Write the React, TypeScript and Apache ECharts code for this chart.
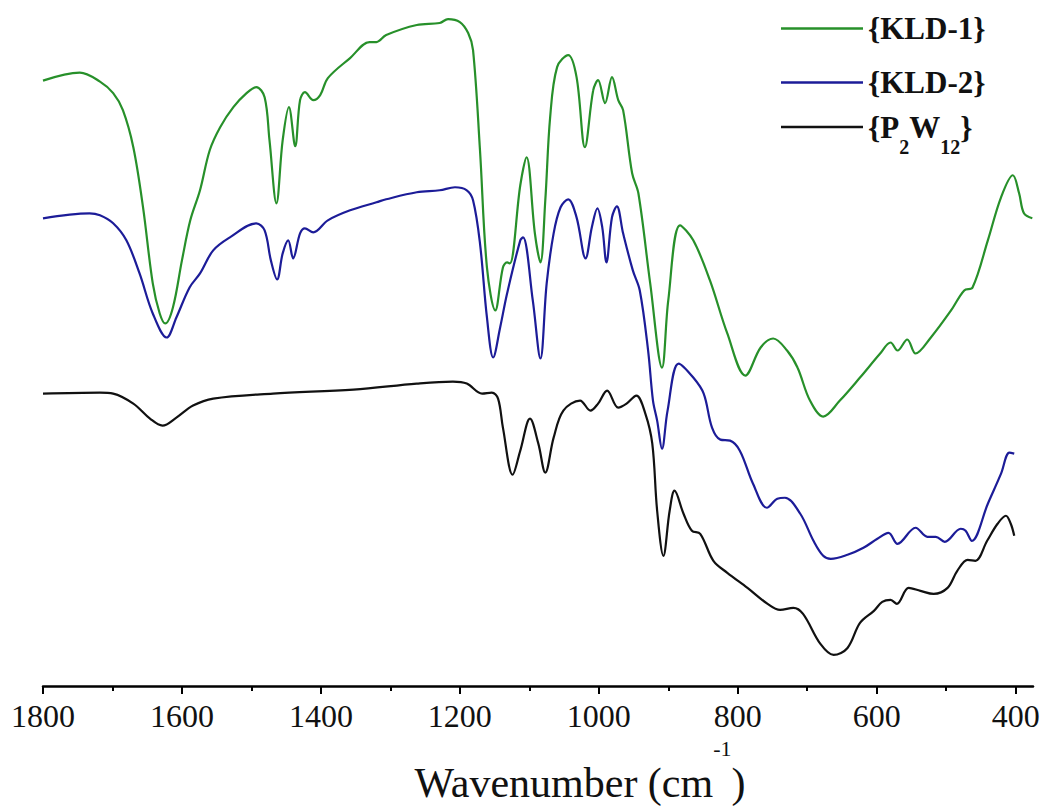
import { useEffect, useRef } from 'react';
import * as echarts from 'echarts';

// [wavenumber (cm-1), transmittance (a.u.)]
const kld1Spectrum: [number, number][] = [
  [1800, 120.9], [1747, 122.5], [1718, 120.7], [1699, 118.4], [1685, 115], [1670, 107.6],
  [1656, 95.6], [1642, 80.4], [1632, 74.4], [1624, 72.4], [1613, 75.6], [1600, 85],
  [1588, 93], [1574, 99], [1560, 107], [1545, 111.6], [1526, 115.6], [1507, 118.4],
  [1493, 119.6], [1481, 117.6], [1474, 109], [1464, 96.4], [1455, 109], [1446, 115.6],
  [1437, 107.8], [1430, 117], [1423, 118.6], [1411, 117], [1401, 118], [1390, 121.4],
  [1358, 125.4], [1330, 128.6], [1320, 128.6], [1306, 130], [1262, 132], [1229, 132.4],
  [1217, 133.2], [1200, 132.6], [1188, 130.4], [1181, 127], [1171, 107], [1161, 83.6],
  [1149, 75], [1138, 83.6], [1132, 84.6], [1128, 84.4], [1113, 100], [1104, 105.6],
  [1092, 90.4], [1084, 84.6], [1077, 97], [1070, 113.6], [1060, 123.6], [1044, 126],
  [1032, 121.6], [1020, 107.6], [1008, 119], [1001, 121], [991, 116.4], [981, 121.6],
  [972, 117], [965, 115], [952, 102.4], [943, 98.4], [926, 80.4], [909, 63.6],
  [900, 77], [883, 92], [864, 89], [840, 81], [815, 70.4], [789, 62],
  [767, 67.6], [749, 69.4], [729, 67], [714, 63.6], [696, 57], [677, 53.8],
  [653, 57], [624, 61.6], [595, 66.4], [580, 68.6], [570, 67], [556, 69.2],
  [544, 66.4], [522, 69.6], [493, 75], [474, 79], [462, 79.6], [440, 89],
  [421, 97.6], [404, 102], [395, 98.4], [388, 94.4], [376, 93.4],
];

const kld2Spectrum: [number, number][] = [
  [1800, 93.4], [1733, 94.4], [1718, 94], [1699, 92.4], [1680, 89], [1661, 82.4],
  [1642, 74.4], [1622, 69.6], [1608, 73.6], [1589, 79.6], [1574, 82.4], [1555, 87],
  [1531, 89.6], [1493, 92.4], [1481, 91], [1472, 85], [1463, 81.2], [1455, 86.4],
  [1447, 89], [1440, 85.4], [1430, 90.4], [1423, 91.4], [1411, 90.6], [1390, 93],
  [1358, 95], [1320, 96.6], [1306, 97.2], [1262, 98.6], [1229, 99], [1207, 99.6],
  [1190, 99], [1181, 97], [1171, 88.4], [1161, 73.6], [1152, 65.6], [1142, 71.6],
  [1132, 78.4], [1113, 89], [1109, 89.6], [1095, 77], [1084, 65.4], [1075, 80.4],
  [1065, 90.4], [1055, 95.6], [1044, 97.2], [1032, 93.6], [1019, 85.4], [1010, 91.6],
  [1002, 95.4], [995, 91.6], [989, 84.6], [981, 93.6], [974, 95.8], [965, 90.4],
  [951, 83], [941, 79], [929, 67], [922, 57], [916, 53], [909, 47.4],
  [901, 55], [885, 64.4], [864, 61.6], [849, 58.4], [837, 51.6], [825, 49.2],
  [811, 49], [797, 47], [778, 40.4], [758, 35.6], [743, 37.4], [732, 37.6],
  [710, 34.4], [691, 29], [677, 26], [666, 25.4], [642, 26.2], [619, 27.6],
  [599, 29.4], [583, 30.6], [570, 28.4], [544, 31.6], [527, 29.8], [515, 29.8],
  [502, 28.8], [479, 31.4], [472, 31], [463, 29], [440, 36.4], [421, 42.4],
  [409, 46.6], [402, 46.4],
];

const p2w12Spectrum: [number, number][] = [
  [1800, 58.4], [1718, 58.6], [1699, 58.4], [1670, 56.4], [1646, 53.4], [1628, 52],
  [1608, 53.6], [1584, 56], [1555, 57.4], [1469, 58.4], [1353, 59.2], [1262, 60.4],
  [1210, 60.8], [1190, 60.4], [1168, 58.4], [1154, 58.6], [1145, 57.4], [1138, 51.6],
  [1124, 42.2], [1113, 47], [1099, 53.4], [1087, 48.4], [1077, 42.6], [1065, 49.6],
  [1051, 55], [1027, 57], [1012, 55], [1001, 56.4], [988, 59], [972, 55.6],
  [960, 56.4], [946, 58], [933, 54.4], [923, 48.4], [916, 35], [907, 26],
  [898, 35], [891, 39], [878, 34.4], [866, 31], [854, 30.4], [835, 25],
  [815, 22.6], [786, 19.6], [757, 16.4], [739, 15.2], [720, 15.6], [706, 14.4],
  [681, 8.4], [662, 6.2], [642, 7.6], [624, 12.6], [604, 15], [592, 16.8],
  [580, 17.2], [571, 16.4], [554, 19.6], [537, 19], [518, 18.4], [498, 19.6],
  [484, 23], [469, 25.2], [458, 25], [441, 29], [426, 32.4], [414, 34],
  [407, 32.4], [402, 30],
];

const seriesNames = ['{KLD-1}', '{KLD-2}', '{P2W12}'];
const seriesColors = ['#27902a', '#1c1c98', '#111111'];
const majorTicks = [1800, 1600, 1400, 1200, 1000, 800, 600, 400];
const minorTicks = [1700, 1500, 1300, 1100, 900, 700, 500];
const xMin = 375;
const xMax = 1800;

const FONT = 'Liberation Serif';

export default function App() {
  const ref = useRef<HTMLDivElement>(null);

  useEffect(() => {
    if (!ref.current) return;
    const chart = echarts.init(ref.current, null, { renderer: 'svg' });
    const spectra = [kld1Spectrum, kld2Spectrum, p2w12Spectrum];

    const option: any = {
      animation: false,
      backgroundColor: '#ffffff',
      textStyle: { fontFamily: FONT },
      grid: { left: 43, right: 13, top: 0, bottom: 123, containLabel: false, outerBoundsMode: 'none' },
      xAxis: [
        {
          type: 'value',
          min: xMin,
          max: xMax,
          inverse: true,
          position: 'bottom',
          axisLine: { show: true, onZero: false, lineStyle: { color: '#000', width: 2.5 } },
          axisTick: { show: true, customValues: majorTicks, length: 8, lineStyle: { color: '#000', width: 2 } },
          axisLabel: {
            show: true,
            customValues: majorTicks,
            formatter: (v: number) => String(v),
            fontFamily: FONT,
            fontSize: 32,
            color: '#111',
            margin: 14,
          },
          splitLine: { show: false },
          name: 'Wavenumber (cm{sup|-1})',
          nameLocation: 'middle',
          nameGap: 76,
          nameTextStyle: {
            fontFamily: FONT,
            fontSize: 42,
            color: '#111',
            padding: [0, 0, 0, 84],
            rich: {
              sup: { fontFamily: FONT, fontSize: 22, lineHeight: 22, color: '#111', padding: [0, 0, 70, 0] },
            },
          },
        },
        {
          type: 'value',
          min: xMin,
          max: xMax,
          inverse: true,
          position: 'bottom',
          axisLine: { show: false, onZero: false },
          axisTick: { show: true, customValues: minorTicks, length: 5, lineStyle: { color: '#000', width: 2 } },
          axisLabel: { show: false },
          splitLine: { show: false },
        },
      ],
      yAxis: { type: 'value', min: 0, max: 137, show: false },
      legend: [
        {
          data: [seriesNames[0], seriesNames[1]],
          orient: 'vertical',
          left: 776,
          top: 8,
          icon: 'rect',
          itemWidth: 82,
          itemHeight: 2.5,
          itemGap: 23,
          textStyle: { fontFamily: FONT, fontSize: 31, fontWeight: 'bold', color: '#111', lineHeight: 30 },
        },
        {
          data: [seriesNames[2]],
          orient: 'vertical',
          left: 776,
          top: 92,
          icon: 'rect',
          itemWidth: 82,
          itemHeight: 2.5,
          formatter: () => '{P{sub|2}W{sub|12}}',
          textStyle: {
            fontFamily: FONT,
            fontSize: 31,
            fontWeight: 'bold',
            color: '#111',
            lineHeight: 30,
            rich: {
              sub: { fontFamily: FONT, fontSize: 20, fontWeight: 'bold', lineHeight: 19, color: '#111', padding: [40, 0, 0, 0] },
            },
          },
        },
      ],
      series: spectra.map((data, i) => ({
        name: seriesNames[i],
        type: 'line',
        xAxisIndex: 0,
        yAxisIndex: 0,
        data,
        symbol: 'none',
        showSymbol: false,
        smooth: 0.35,
        lineStyle: { color: seriesColors[i], width: 2.2 },
        itemStyle: { color: seriesColors[i] },
      })),
    };

    chart.setOption(option);
    return () => chart.dispose();
  }, []);

  return (
    <div
      ref={ref}
      style={{ position: 'absolute', left: 0, top: 0, width: 1046, height: 809, background: '#fff' }}
    />
  );
}
